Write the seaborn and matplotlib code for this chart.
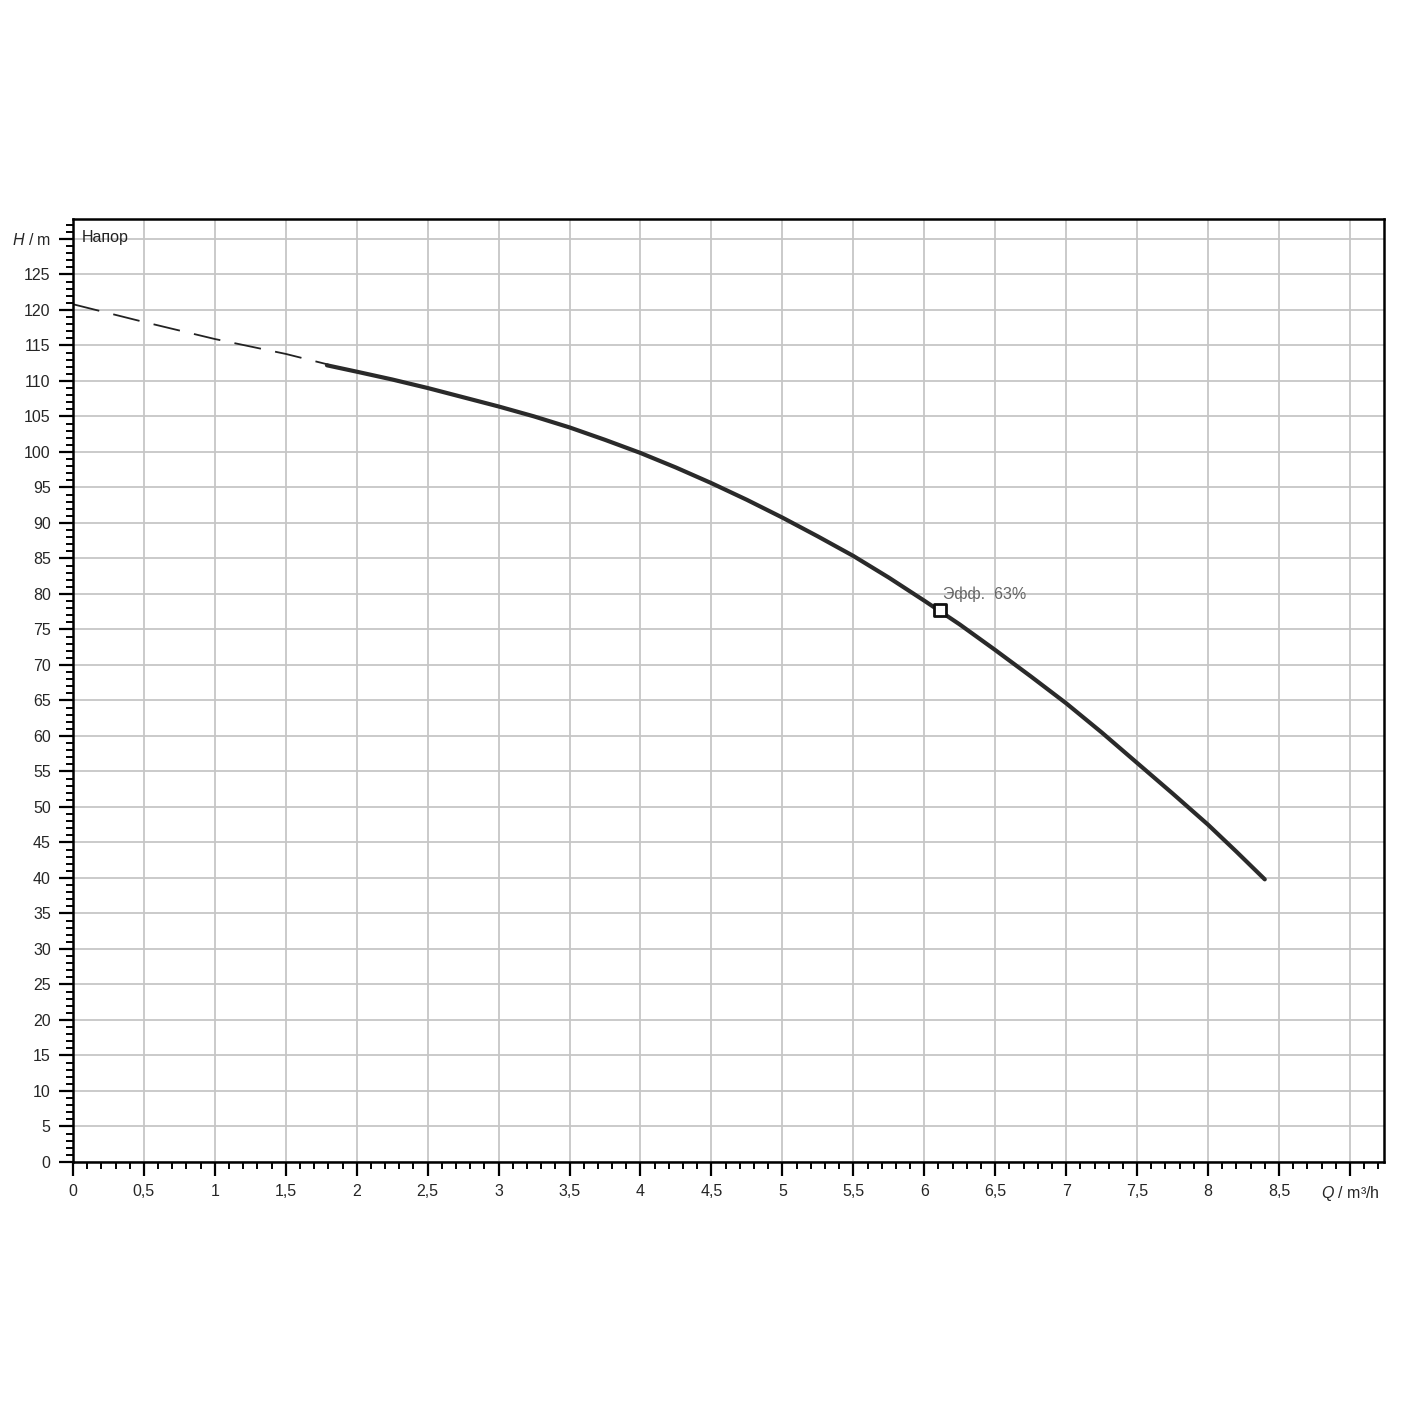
import numpy as np
import pandas as pd
import matplotlib
matplotlib.use("Agg")
import matplotlib.pyplot as plt
import seaborn as sns
from matplotlib.ticker import MultipleLocator, FixedLocator

# curve
q_dash = [0.0, 0.5, 1.0, 1.5, 1.8]
h_dash = [120.8, 118.3, 115.9, 113.8, 112.3]
q_solid = [1.79, 2.0, 2.25, 2.5, 2.75, 3.0, 3.25, 3.5, 3.75, 4.0, 4.25, 4.5, 4.75,
           5.0, 5.25, 5.5, 5.75, 6.0, 6.25, 6.5, 6.75, 7.0, 7.25, 7.5, 7.75, 8.0, 8.2, 8.4]
h_solid = [112.2, 111.3, 110.2, 109.0, 107.7, 106.4, 105.0, 103.45, 101.7, 99.85, 97.8, 95.6, 93.25,
           90.75, 88.1, 85.35, 82.3, 79.05, 75.7, 72.1, 68.4, 64.6, 60.5, 56.2, 51.9, 47.5, 43.7, 39.8]
bep_q = [6.11]
bep_h = [77.7]
bep_label = "Эфф.  63%"

x_ticks = [0, 0.5, 1, 1.5, 2, 2.5, 3, 3.5, 4, 4.5, 5, 5.5, 6, 6.5, 7, 7.5, 8, 8.5, 9]
y_ticks = list(range(0, 135, 5))

sns.set_theme(style="white")
plt.rcParams['font.family'] = ['Liberation Sans', 'DejaVu Sans']
plt.rcParams['mathtext.fontset'] = 'custom'
plt.rcParams['mathtext.it'] = 'Liberation Sans:italic'
plt.rcParams['mathtext.rm'] = 'Liberation Sans'

fig = plt.figure(figsize=(14.25, 14.25), dpi=100)
ax = fig.add_axes([0.0512, 0.1846, 0.92, 0.6617])

df_d = pd.DataFrame({"Q": q_dash, "H": h_dash})
df_s = pd.DataFrame({"Q": q_solid, "H": h_solid})
sns.lineplot(data=df_d, x="Q", y="H", ax=ax, color="#222222", lw=1.3,
             linestyle=(0, (15, 8)), sort=False)
sns.lineplot(data=df_s, x="Q", y="H", ax=ax, color="#2a2a2a", lw=3.0, sort=False)
sns.scatterplot(x=bep_q, y=bep_h, ax=ax, marker="s", s=70, facecolor="white",
                edgecolor="#111111", linewidth=2, zorder=5)
ax.text(bep_q[0] + 0.02, bep_h[0] + 1.2, bep_label, fontsize=11.5, color="#666666",
        ha="left", va="bottom")

ax.set_xlim(0, 9.24)
ax.set_ylim(0, 132.8)
ax.xaxis.set_major_locator(FixedLocator(x_ticks))
ax.yaxis.set_major_locator(FixedLocator(y_ticks))
ax.xaxis.set_minor_locator(MultipleLocator(0.1))
ax.yaxis.set_minor_locator(MultipleLocator(1))

xl = [("%g" % v).replace(".", ",") for v in x_ticks]
xl[-1] = "$Q$ / m³/h"
yl = [str(v) for v in y_ticks]
yl[-1] = "$H$ / m"
ax.set_xticklabels(xl)
ax.set_yticklabels(yl)

ax.grid(True, which="major", color="#c6c6c6", lw=1.3)
ax.tick_params(which="major", direction="out", length=10, width=1.6, color="black",
               labelsize=11.5, pad=6, left=True, bottom=True)
ax.tick_params(which="minor", direction="out", length=5, width=1.4, color="black",
               left=True, bottom=True)
for s in ax.spines.values():
    s.set_color("black")
    s.set_linewidth(1.8)

ax.text(0.06, 130.2, "Напор", fontsize=11.5, color="#222222", ha="left", va="center")
ax.set_xlabel("")
ax.set_ylabel("")

fig.savefig("out.png", dpi=100, facecolor="white")
